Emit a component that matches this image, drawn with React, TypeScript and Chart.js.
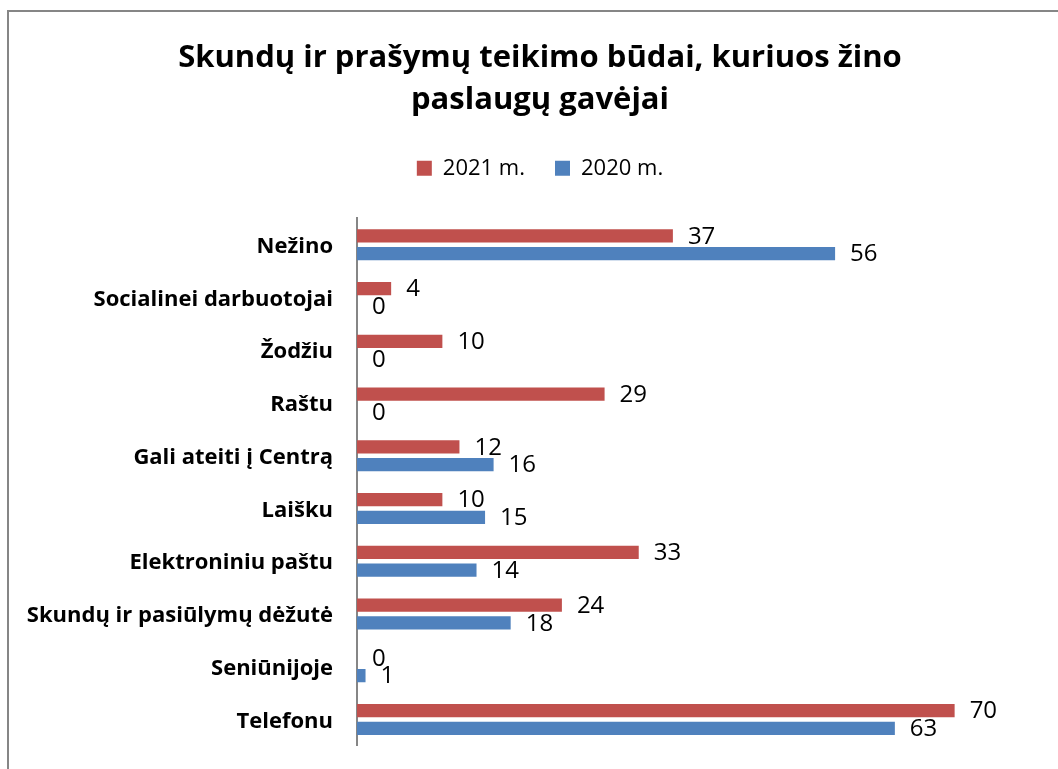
import React, { useEffect, useRef } from "react";
import { Chart, registerables } from "chart.js";

Chart.register(...registerables);

const categories = [
  "Nežino",
  "Socialinei darbuotojai",
  "Žodžiu",
  "Raštu",
  "Gali ateiti į Centrą",
  "Laišku",
  "Elektroniniu paštu",
  "Skundų ir pasiūlymų dėžutė",
  "Seniūnijoje",
  "Telefonu",
];
const values2021 = [37, 4, 10, 29, 12, 10, 33, 24, 0, 70];
const values2020 = [56, 0, 0, 0, 16, 15, 14, 18, 1, 63];
const seriesLabels = ["2021 m.", "2020 m."];
const titleLines = ["Skundų ir prašymų teikimo būdai, kuriuos žino", "paslaugų gavėjai"];
const axisMax = 80;

const FONT = "'Open Sans', Lato, sans-serif";

const dataLabelPlugin = {
  id: "dataLabels",
  afterDatasetsDraw(chart: any) {
    const ctx = chart.ctx;
    ctx.save();
    ctx.font = `24px ${FONT}`;
    ctx.fillStyle = "#000";
    ctx.textAlign = "left";
    ctx.textBaseline = "middle";
    chart.data.datasets.forEach((ds: any, di: number) => {
      const meta = chart.getDatasetMeta(di);
      meta.data.forEach((el: any, i: number) => {
        ctx.fillText(String(ds.data[i]), el.x + 15, el.y + 1);
      });
    });
    ctx.restore();
  },
};

const legendGapPlugin = {
  id: "legendGap",
  beforeInit(chart: any) {
    const legend = chart.legend;
    if (!legend) return;
    const origFit = legend.fit;
    legend.fit = function () {
      origFit.call(this);
      this.height += 29;
    };
  },
};

export default function App() {
  const ref = useRef<HTMLCanvasElement | null>(null);
  useEffect(() => {
    if (!ref.current) return;
    const chart = new Chart(ref.current, {
      type: "bar",
      data: {
        labels: categories,
        datasets: [
          {
            label: seriesLabels[0],
            data: values2021,
            backgroundColor: "#C0504D",
            barPercentage: 0.75,
            categoryPercentage: 0.67,
          },
          {
            label: seriesLabels[1],
            data: values2020,
            backgroundColor: "#4F81BD",
            barPercentage: 0.75,
            categoryPercentage: 0.67,
          },
        ],
      },
      options: {
        indexAxis: "y",
        animation: false,
        responsive: false,
        maintainAspectRatio: false,
        layout: { padding: { top: 25, bottom: 14, right: 27, left: 31 } },
        plugins: {
          title: {
            display: true,
            text: titleLines,
            color: "#000",
            font: { family: FONT, size: 31, weight: "bold", lineHeight: 1.36 },
            padding: { top: 0, bottom: 6 },
          },
          legend: {
            display: true,
            position: "top",
            labels: {
              color: "#000",
              font: { family: FONT, size: 22 },
              boxWidth: 15,
              boxHeight: 15,
              padding: 30,
            },
          },
          tooltip: { enabled: false },
        },
        scales: {
          x: { display: false, min: 0, max: axisMax },
          y: {
            grid: { display: false, drawTicks: false },
            border: { display: true, color: "#868686", width: 2 },
            ticks: {
              color: "#000",
              font: { family: FONT, size: 22, weight: "bold" },
              padding: 24,
              labelOffset: 2,
            },
            afterFit(scale: any) {
              scale.width = 317;
              // let long category labels extend past the scale box without clipping
              scale._computeLabelArea = () => undefined;
            },
          },
        },
      },
      plugins: [dataLabelPlugin, legendGapPlugin],
    });
    return () => chart.destroy();
  }, []);

  return (
    <div
      style={{
        position: "fixed",
        left: 7,
        top: 10,
        width: 1200,
        height: 900,
        borderLeft: "2px solid #868686",
        borderTop: "2px solid #868686",
        background: "#fff",
        overflow: "hidden",
      }}
    >
      <canvas ref={ref} width={1058} height={771} style={{ display: "block", width: 1058, height: 771 }} />
    </div>
  );
}
